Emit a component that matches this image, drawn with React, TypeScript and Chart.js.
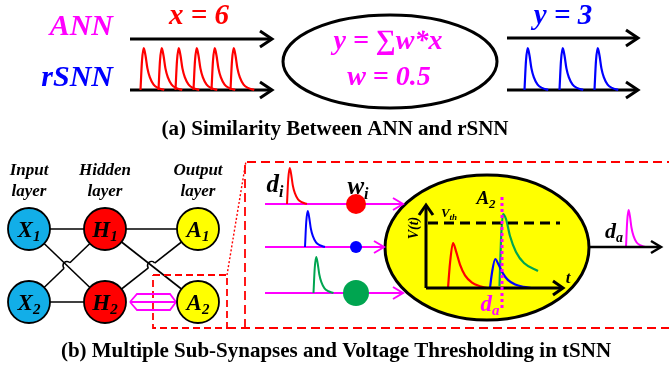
import React, { useEffect, useRef } from "react";
import { Chart, registerables } from "chart.js";

Chart.register(...registerables);

const W = 669;
const H = 372;

// ---------- data ----------
// spike template: [dx, fraction of height]
const spikeShape: number[][] = [[0, 0], [1.2, 0.7], [2.6, 1], [4, 0.82], [5.5, 0.52], [7.5, 0.3], [10.5, 0.13], [14, 0.05], [19, 0]];
const pspShape: number[][] = [[0, 0], [2, 0.55], [5, 1], [8, 0.82], [12, 0.52], [17, 0.28], [24, 0.12], [32, 0.04], [39, 0]];

const redSpikeStarts = [140.5, 158.5, 175.5, 193.5, 211.5, 230.5];
const blueSpikeStarts = [524.5, 559.5, 594.5];
const topBaseY = 90;
const topSpikeH = 42;

const nodeXs = [29, 105, 198];
const nodeYs = [229, 302];
const nodeColors = ["#12aee8", "#ff0000", "#ffff00"];
const nodeLetters = ["X", "H", "A"];
const layerTitles = ["Input", "Hidden", "Output"];

const rowYs = [204, 247, 293];
const rowColors = ["#ff0000", "#0000ff", "#00a550"];
const rowSpikeStarts = [287, 305, 313.5];
const rowArrowEnds = [403, 384, 403];
const weightRadii = [10, 6, 13];

const greenPsp: number[][] = [[499.5, 286], [501, 240], [503, 214], [506, 219], [510, 236], [516, 252], [524, 263], [538, 271]];

// ---------- helpers ----------
function line(points: number[][], color: string, width: number, extra: any = {}) {
  return {
    type: "scatter",
    data: points.map((p) => ({ x: p[0], y: p[1] })),
    showLine: true,
    borderColor: color,
    borderWidth: width,
    pointRadius: 0,
    fill: false,
    order: 5,
    ...extra,
  };
}
function spike(x0: number, base: number, h: number, shape: number[][], color: string, width: number, sx = 1) {
  return line(shape.map((p) => [x0 + p[0] * sx, base - p[1] * h]), color, width, { cubicInterpolationMode: "monotone" });
}
function arrowHead(x: number, y: number, len: number, half: number, color: string, width: number, dir = 0) {
  if (dir === 1) return line([[x - half, y + len], [x, y], [x + half, y + len]], color, width, { borderJoinStyle: "miter" });
  return line([[x - len, y - half], [x, y], [x - len, y + half]], color, width, { borderJoinStyle: "miter" });
}

const HOP = 4;

export default function App() {
  const ref = useRef<HTMLCanvasElement | null>(null);

  useEffect(() => {
    document.body.style.margin = "0";
    const canvas = ref.current!;
    const datasets: any[] = [];

    // ---- panel (a) ----
    redSpikeStarts.forEach((x) => datasets.push(spike(x, topBaseY, topSpikeH, spikeShape, "#ff0000", 2.2, 1.25)));
    blueSpikeStarts.forEach((x) => datasets.push(spike(x, topBaseY, topSpikeH, spikeShape, "#0000ff", 2.2, 1.25)));
    datasets.push(line([[130, 39], [271, 39]], "#000", 3));
    datasets.push(arrowHead(272, 39, 12, 8, "#000", 3));
    datasets.push(line([[130, 90], [271, 90]], "#000", 3, { order: 7 }));
    datasets.push(arrowHead(272, 90, 12, 8, "#000", 3));
    datasets.push(line([[507, 38], [636, 38]], "#000", 3));
    datasets.push(arrowHead(638, 38, 12, 8, "#000", 3));
    datasets.push(line([[507, 90], [636, 90]], "#000", 3, { order: 7 }));
    datasets.push(arrowHead(638, 90, 12, 8, "#000", 3));

    // ---- network ----
    const [xa, xb, xc] = nodeXs;
    const [y1, y2] = nodeYs;
    const straight = [
      [[xa, y1], [xb, y1]], [[xa, y1], [xb, y2]], [[xa, y2], [xb, y2]],
      [[xb, y1], [xc, y1]], [[xb, y1], [xc, y2]],
    ];
    straight.forEach((c) => datasets.push(line(c, "#000", 1.6, { order: 6 })));
    // lines with a hop where they cross
    const hopped = [
      [[xa, y2], [xb, y1]],
      [[xb, y2], [xc, y1]],
    ];
    const hops: number[][] = [];
    hopped.forEach(([a, b]) => {
      const dx = b[0] - a[0], dy = b[1] - a[1];
      const len = Math.hypot(dx, dy);
      const ux = dx / len, uy = dy / len;
      const cx = (a[0] + b[0]) / 2, cy = (a[1] + b[1]) / 2;
      datasets.push(line([a, [cx - ux * HOP, cy - uy * HOP]], "#000", 1.6, { order: 6 }));
      datasets.push(line([[cx + ux * HOP, cy + uy * HOP], b], "#000", 1.6, { order: 6 }));
      hops.push([cx, cy, ux, uy]);
    });
    datasets.push(line([[130, 302], [137, 294], [170, 294], [176, 302], [170, 310], [137, 310], [130, 302]], "#ff00ff", 1.8, { order: 4 }));
    datasets.push(line([[130, 302], [176, 302]], "#ff00ff", 1.8, { order: 4 }));
    const nodePts: any[] = [];
    const nodeBg: string[] = [];
    nodeYs.forEach((y) => nodeXs.forEach((x, i) => { nodePts.push({ x, y }); nodeBg.push(nodeColors[i]); }));
    datasets.push({
      type: "scatter",
      data: nodePts,
      pointRadius: 21,
      pointBackgroundColor: nodeBg,
      pointBorderColor: "#000",
      pointBorderWidth: 1.8,
      showLine: false,
      order: 1,
    });

    const red = "#ff0000";
    datasets.push(line([[153, 275], [227, 275], [227, 328], [153, 328], [153, 275]], red, 1.8, { borderDash: [7, 4] }));
    datasets.push(line([[245, 328], [245, 162], [669, 162]], red, 1.8, { borderDash: [9, 5] }));
    datasets.push(line([[227, 328], [669, 328]], red, 1.8, { borderDash: [9, 5] }));
    datasets.push(line([[227, 275], [246, 161]], red, 1.4, { borderDash: [2, 2] }));

    // ---- panel (b) inputs ----
    rowYs.forEach((y, i) => {
      datasets.push(line([[265, y], [rowArrowEnds[i] - 1, y]], "#ff00ff", 2, { order: 6 }));
      datasets.push(arrowHead(rowArrowEnds[i], y, 10, 6, "#ff00ff", 2));
      datasets.push(spike(rowSpikeStarts[i], y, 36, spikeShape, rowColors[i], 2, 1.05));
      datasets.push({
        type: "scatter",
        data: [{ x: 356, y }],
        pointRadius: weightRadii[i],
        pointBackgroundColor: rowColors[i],
        pointBorderWidth: 0,
        order: 2,
      });
    });

    datasets.push(line([[426, 288], [426, 207]], "#000", 3));
    datasets.push(arrowHead(426, 205, 10, 7, "#000", 3, 1));
    datasets.push(line([[426, 288], [561, 288]], "#000", 3));
    datasets.push(arrowHead(563, 288, 10, 7, "#000", 3));
    datasets.push(line([[428, 223], [560, 223]], "#000", 3, { borderDash: [10, 6] }));
    datasets.push(spike(448, 288, 45, pspShape, "#ff0000", 2.2, 1));
    datasets.push(spike(490, 288, 29, pspShape, "#0000ff", 2.2, 1.05));
    datasets.push(line(greenPsp, "#00a550", 2.2, { cubicInterpolationMode: "monotone" }));
    datasets.push(line([[502, 197], [502, 308]], "#ff00ff", 3, { borderDash: [3, 3], order: 0 }));

    datasets.push(line([[589, 247], [659, 247]], "#000", 2.5));
    datasets.push(arrowHead(661, 247, 10, 6, "#000", 2.5));
    datasets.push(spike(626, 247, 37, spikeShape, "#ff00ff", 2, 1.0));

    const serif = "'Liberation Serif', 'Times New Roman', serif";

    const drawPlugin = {
      id: "diagram",
      beforeDatasetsDraw(chart: any) {
        const { ctx, scales } = chart;
        const px = (v: number) => scales.x.getPixelForValue(v);
        const py = (v: number) => scales.y.getPixelForValue(v);
        ctx.save();
        ctx.beginPath();
        ctx.ellipse(px(390), py(61.5), px(497) - px(390), py(108) - py(61.5), 0, 0, Math.PI * 2);
        ctx.lineWidth = 3;
        ctx.strokeStyle = "#000";
        ctx.stroke();
        ctx.beginPath();
        ctx.ellipse(px(487), py(247.5), px(589) - px(487), py(320) - py(247.5), 0, 0, Math.PI * 2);
        ctx.fillStyle = "#ffff00";
        ctx.fill();
        ctx.lineWidth = 3;
        ctx.stroke();
        // crossing hops
        ctx.lineWidth = 1.6;
        hops.forEach(([cx, cy, ux, uy]) => {
          const a1 = Math.atan2(-uy, -ux);
          ctx.beginPath();
          ctx.arc(px(cx), py(cy), HOP, a1, a1 + Math.PI, false);
          ctx.stroke();
        });
        ctx.restore();
      },
      afterDatasetsDraw(chart: any) {
        const { ctx, scales } = chart;
        const px = (v: number) => scales.x.getPixelForValue(v);
        const py = (v: number) => scales.y.getPixelForValue(v);
        const text = (s: string, x: number, y: number, size: number, color: string, style = "italic bold", align = "center") => {
          ctx.font = `${style} ${size}px ${serif}`;
          ctx.fillStyle = color;
          ctx.textAlign = align;
          ctx.textBaseline = "middle";
          ctx.fillText(s, px(x), py(y));
        };
        const sub = (main: string, s: string, cx: number, cy: number, size: number, subSize: number, color: string) => {
          ctx.font = `italic bold ${size}px ${serif}`;
          const w1 = ctx.measureText(main).width;
          ctx.font = `italic bold ${subSize}px ${serif}`;
          const w2 = ctx.measureText(s).width;
          const left = px(cx) - (w1 + w2) / 2;
          ctx.fillStyle = color;
          ctx.textAlign = "left";
          ctx.textBaseline = "alphabetic";
          ctx.font = `italic bold ${size}px ${serif}`;
          const base = py(cy) + size * 0.33;
          ctx.fillText(main, left, base);
          ctx.font = `italic bold ${subSize}px ${serif}`;
          ctx.fillText(s, left + w1, base + subSize * 0.3);
        };
        ctx.save();
        text("ANN", 113, 27, 30, "#ff00ff", "italic bold", "right");
        text("rSNN", 113, 78, 30, "#0000ff", "italic bold", "right");
        text("x = 6", 199, 17, 29, "#ff0000");
        text("y = \u2211w*x", 388, 42, 28, "#ff00ff");
        text("w = 0.5", 389, 78, 28, "#ff00ff");
        text("y = 3", 563, 17, 29, "#0000ff");
        text("(a) Similarity Between ANN and rSNN", 335, 130, 21, "#000", "bold");
        layerTitles.forEach((t, i) => {
          text(t, nodeXs[i], 171, 17, "#000");
          text("layer", nodeXs[i], 192, 17, "#000");
        });
        nodeYs.forEach((y, r) => nodeXs.forEach((x, i) => sub(nodeLetters[i], String(r + 1), x, y, 23, 15, "#000")));
        sub("d", "i", 275, 184, 25, 16, "#000");
        sub("w", "i", 358, 186, 25, 16, "#000");
        sub("A", "2", 486, 198, 19, 13, "#000");
        sub("V", "th", 449, 213, 13, 9, "#000");
        sub("d", "a", 490, 303, 23, 15, "#ff00ff");
        sub("d", "a", 614, 231, 22, 14, "#000");
        text("t", 568, 279, 17, "#000");
        ctx.save();
        ctx.translate(px(414), py(228));
        ctx.rotate(-Math.PI / 2);
        ctx.font = `italic bold 14px ${serif}`;
        ctx.fillStyle = "#000";
        ctx.textAlign = "center";
        ctx.textBaseline = "middle";
        ctx.fillText("V(t)", 0, 0);
        ctx.restore();
        text("(b) Multiple Sub-Synapses and Voltage Thresholding in tSNN", 336, 352, 21, "#000", "bold");
        ctx.restore();
      },
    };

    const chart = new Chart(canvas, {
      type: "scatter",
      data: { datasets },
      options: {
        animation: false,
        responsive: false,
        maintainAspectRatio: false,
        layout: { padding: 0, autoPadding: false },
        plugins: { legend: { display: false }, tooltip: { enabled: false } },
        scales: {
          x: { type: "linear", min: 0, max: W, display: false },
          y: { type: "linear", min: 0, max: H, reverse: true, display: false },
        },
      },
      plugins: [drawPlugin],
    } as any);
    return () => chart.destroy();
  }, []);

  return (
    <div style={{ width: W, height: H, background: "#fff" }}>
      <canvas ref={ref} width={W} height={H} style={{ display: "block" }} />
    </div>
  );
}
